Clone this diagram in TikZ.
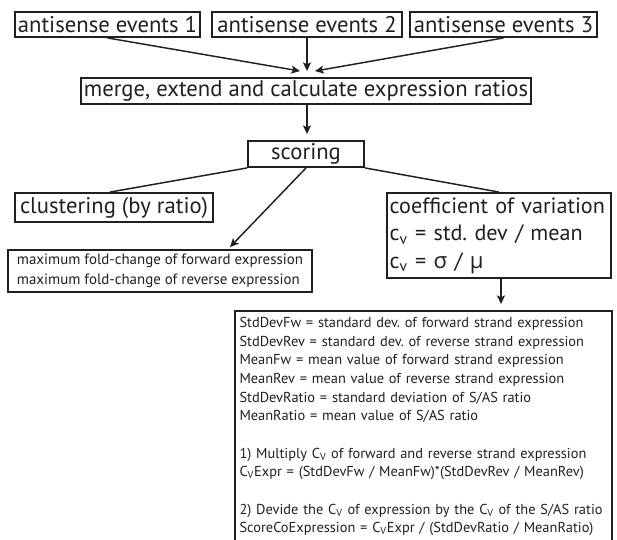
\documentclass[tikz,border=0pt]{standalone}
\usepackage{fontspec}
\setmainfont{PT Sans}
\newfontfamily\grk{Open Sans}
\usetikzlibrary{arrows.meta}
\definecolor{ink}{HTML}{231F20}
\frenchspacing
\begin{document}
\begin{tikzpicture}[x=0.75pt,y=-0.75pt,
  box/.style={draw=ink, line width=1.4pt, inner xsep=2pt, inner ysep=0pt, align=center, text=ink},
  big/.style={font=\fontsize{17}{19}\selectfont},
  conn/.style={draw=ink, line width=1.1pt},
  arr/.style={conn, -{Stealth[length=6.5pt,width=6pt,inset=1.5pt]}}]
\clip (0,0) rectangle (617,539);
\fill[white] (0,0) rectangle (617,539);
\node[box,big,minimum width=138.75pt,minimum height=18.75pt] (e1) at (107.5,24.5) {antisense events 1};
\node[box,big,minimum width=142.5pt,minimum height=18.75pt] (e2) at (307,24.5) {antisense events 2};
\node[box,big,minimum width=140.25pt,minimum height=18.75pt] (e3) at (503.5,24.5) {antisense events 3};
\node[box,big,minimum width=334.5pt,minimum height=19.5pt] (merge) at (306,91) {merge, extend and calculate expression ratios};
\node[box,big,minimum width=87pt,minimum height=19.5pt] (scoring) at (306,154) {scoring};
\node[box,big,minimum width=148.5pt,minimum height=21.75pt] (clust) at (114,207.5) {clustering (by ratio)};
\node[box,align=left,font=\fontsize{11.2}{15}\selectfont,minimum width=228pt,minimum height=31.5pt] (fold) at (160,271)
  {maximum fold-change of forward expression\\maximum fold-change of reverse expression};
\node[box,align=left,font=\fontsize{16.6}{20.6}\selectfont,text width=164pt,minimum height=63.75pt] (coeff) at (499,235.5)
  {coefficient of variation\\c\textsubscript{v} = std. dev / mean\\c\textsubscript{v} = {\grk σ} / {\grk μ}};
\node[box,align=left,font=\fontsize{10.8}{14}\selectfont,inner xsep=3.5pt,text width=276pt,minimum height=173.25pt] (calc) at (423.5,426.5)
  {StdDevFw = standard dev. of forward strand expression\\
   StdDevRev = standard dev. of reverse strand expression\\
   MeanFw = mean value of forward strand expression\\
   MeanRev = mean value of reverse strand expression\\
   StdDevRatio = standard deviation of S/AS ratio\\
   MeanRatio = mean value of S/AS ratio\\[14pt]
   1) Multiply C\textsubscript{V} of forward and reverse strand expression\\
   C\textsubscript{V}Expr = (StdDevFw / MeanFw)*(StdDevRev / MeanRev)\\[14pt]
   2) Devide the C\textsubscript{V} of expression by the C\textsubscript{V} of the S/AS ratio\\
   ScoreCoExpression = C\textsubscript{V}Expr / (StdDevRatio / MeanRatio)};
\draw[arr] (e1.south) -- ([shift={(-6,-6)}]merge.north);
\draw[arr] (e2.south) -- ([shift={(1,-6)}]merge.north);
\draw[arr] (e3.south) -- ([shift={(9,-6)}]merge.north);
\draw[arr] ([xshift=0.75pt]merge.south) -- ([shift={(1,-6)}]scoring.north);
\draw[conn] (scoring.south west) -- ([xshift=-3pt]clust.north);
\draw[arr] (scoring.south) -- ([shift={(70,-2)}]fold.north);
\draw[conn] (scoring.south east) -- (coeff.north);
\draw[arr] ([xshift=1.5pt]coeff.south) -- ([shift={(2,-6)}]coeff.south |- calc.north);
\end{tikzpicture}
\end{document}
